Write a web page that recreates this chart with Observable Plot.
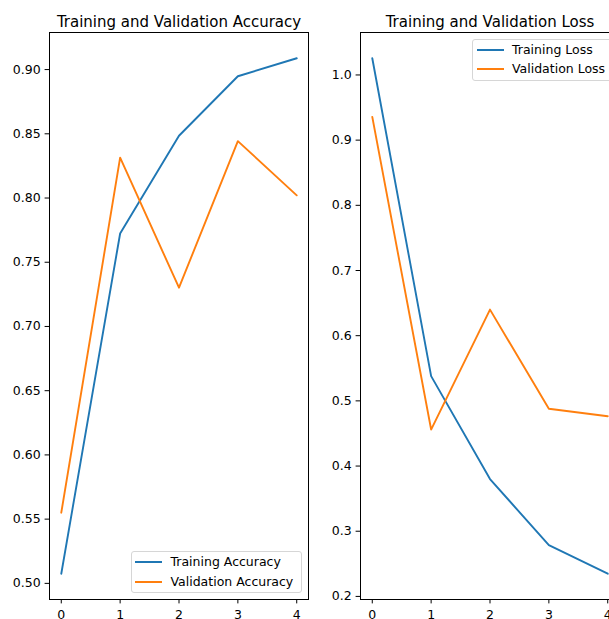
<!DOCTYPE html>
<html>
<head>
<meta charset="utf-8">
<script src="https://cdn.jsdelivr.net/npm/d3@7"></script>
<script src="https://cdn.jsdelivr.net/npm/@observablehq/plot@0.6"></script>
<style>
  html, body { margin: 0; padding: 0; background: white; overflow: hidden; }
  #wrap { position: relative; width: 609px; height: 619px; overflow: hidden; background: white; font-family: "DejaVu Sans", sans-serif; }
  .panel { position: absolute; top: 0; }
  .legend { position: absolute; box-sizing: border-box; border: 1px solid #d6d6d6; border-radius: 3px; background: rgba(255,255,255,0.8); }
  .row { position: absolute; left: 0; height: 0; }
  .swatch { position: absolute; left: 3.5px; top: -1px; width: 27px; height: 2px; }
  .lab { position: absolute; left: 39px; font-size: 12.5px; line-height: 14px; top: -7px; white-space: nowrap; color: #000; }
</style>
</head>
<body>
<div id="wrap"></div>
<script>
// ---- data ----
const epochs = [0, 1, 2, 3, 4];
const trainAcc = [0.5075, 0.7724, 0.8485, 0.8948, 0.9088];
const valAcc = [0.555, 0.8314, 0.7302, 0.8443, 0.8021];
const trainLoss = [1.0256, 0.538, 0.380, 0.2786, 0.2348];
const valLoss = [0.9357, 0.456, 0.640, 0.488, 0.4765];
const accSeries = ["Training Accuracy", "Validation Accuracy"];
const lossSeries = ["Training Loss", "Validation Loss"];
const accTicks = [0.50, 0.55, 0.60, 0.65, 0.70, 0.75, 0.80, 0.85, 0.90];
const lossTicks = [0.2, 0.3, 0.4, 0.5, 0.6, 0.7, 0.8, 0.9, 1.0];
const xTicks = [0, 1, 2, 3, 4];
const titles = ["Training and Validation Accuracy", "Training and Validation Loss"];
const colors = ["#1f77b4", "#ff7f0e"];

function rows(names, a, b) {
  return [
    ...epochs.map((e, i) => ({epoch: e, value: a[i], series: names[0]})),
    ...epochs.map((e, i) => ({epoch: e, value: b[i], series: names[1]}))
  ];
}
function padded(vals, frac) {
  const lo = d3.min(vals), hi = d3.max(vals), r = hi - lo;
  return [lo - r * frac, hi + r * frac];
}

function panel(opts) {
  const data = rows(opts.names, opts.a, opts.b);
  const xd = padded(epochs, 0.05);
  const yd = padded([...opts.a, ...opts.b], 0.05);
  return Plot.plot({
    width: opts.width, height: 619,
    marginLeft: opts.ml, marginRight: opts.mr, marginTop: 32, marginBottom: 20,
    style: {fontFamily: "DejaVu Sans, sans-serif", fontSize: "12.5px", color: "black", background: "white", overflow: "visible"},
    x: {domain: xd},
    y: {domain: yd},
    color: {domain: opts.names, range: colors},
    marks: [
      Plot.line(data, {x: "epoch", y: "value", stroke: "series", strokeWidth: 1.9}),
      Plot.frame({stroke: "black", strokeWidth: 1}),
      Plot.axisX({ticks: xTicks, tickFormat: d => String(d), tickSize: 4.4, tickPadding: 6.3, label: null, strokeWidth: 1}),
      Plot.axisY({ticks: opts.ticks, tickFormat: opts.fmt, tickSize: 4.4, tickPadding: 4.5, label: null, strokeWidth: 1}),
      Plot.text([opts.title], {text: d => d, frameAnchor: "top", lineAnchor: "bottom", dy: -6, fontSize: 15, fill: "black"})
    ]
  });
}

const wrap = document.getElementById("wrap");

const left = panel({names: accSeries, a: trainAcc, b: valAcc, ticks: accTicks, fmt: d3.format(".2f"), title: titles[0], width: 320, ml: 49, mr: 12});
left.classList.add("panel");
left.style.left = "0px";
wrap.appendChild(left);

const right = panel({names: lossSeries, a: trainLoss, b: valLoss, ticks: lossTicks, fmt: d3.format(".1f"), title: titles[1], width: 320, ml: 40, mr: 21});
right.classList.add("panel");
right.style.left = "320px";
wrap.appendChild(right);

function legend(names, box, rowYs) {
  const lg = document.createElement("div");
  lg.className = "legend";
  lg.style.left = box.left + "px";
  lg.style.top = box.top + "px";
  lg.style.width = box.width + "px";
  lg.style.height = box.height + "px";
  names.forEach((n, i) => {
    const r = document.createElement("div");
    r.className = "row";
    r.style.top = (rowYs[i] - box.top - 1) + "px";
    const sw = document.createElement("div");
    sw.className = "swatch";
    sw.style.background = colors[i];
    const t = document.createElement("div");
    t.className = "lab";
    t.textContent = n;
    r.appendChild(sw);
    r.appendChild(t);
    lg.appendChild(r);
  });
  wrap.appendChild(lg);
}
legend(accSeries, {left: 130.5, top: 551, width: 171.5, height: 42}, [562.3, 581.7]);
legend(lossSeries, {left: 472, top: 39, width: 141, height: 42}, [50, 69.3]);
</script>
</body>
</html>
